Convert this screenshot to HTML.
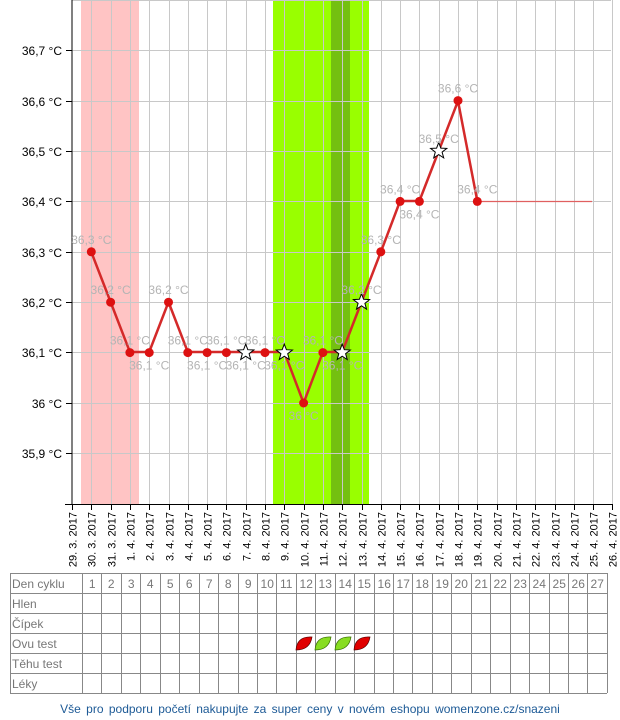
<!DOCTYPE html>
<html><head><meta charset="utf-8"><style>
html,body{margin:0;padding:0;background:#fff;}
svg{display:block;font-family:"Liberation Sans",Arial,sans-serif;}
</style></head><body>
<svg width="620" height="720" viewBox="0 0 620 720" xmlns="http://www.w3.org/2000/svg">
<rect x="81" y="0" width="58" height="504" fill="#ffc4c4"/>
<rect x="273" y="0" width="96" height="504" fill="#99ff00"/>
<rect x="331" y="0" width="19" height="504" fill="#74c010"/>
<g id="grid" stroke="#c8c8c8" stroke-width="1">
<line x1="72" y1="0.5" x2="611" y2="0.5"/>
<line x1="72" y1="50.5" x2="611" y2="50.5"/>
<line x1="72" y1="101.5" x2="611" y2="101.5"/>
<line x1="72" y1="151.5" x2="611" y2="151.5"/>
<line x1="72" y1="201.5" x2="611" y2="201.5"/>
<line x1="72" y1="252.5" x2="611" y2="252.5"/>
<line x1="72" y1="302.5" x2="611" y2="302.5"/>
<line x1="72" y1="352.5" x2="611" y2="352.5"/>
<line x1="72" y1="403.5" x2="611" y2="403.5"/>
<line x1="72" y1="453.5" x2="611" y2="453.5"/>
</g>
<g stroke="#c8c8c8" stroke-width="1" id="vg"></g>
<line x1="72" y1="0" x2="72" y2="504" stroke="#000"/>
<line x1="65" y1="504.5" x2="613" y2="504.5" stroke="#000"/>
<g font-size="12" fill="#000" text-anchor="end">
<text x="62" y="55">36,7 °C</text>
<text x="62" y="106">36,6 °C</text>
<text x="62" y="156">36,5 °C</text>
<text x="62" y="206">36,4 °C</text>
<text x="62" y="257">36,3 °C</text>
<text x="62" y="307">36,2 °C</text>
<text x="62" y="357">36,1 °C</text>
<text x="62" y="408">36 °C</text>
<text x="62" y="458">35,9 °C</text>
</g>
<g stroke="#000">
<line x1="66" y1="50.5" x2="72" y2="50.5"/><line x1="66" y1="101.5" x2="72" y2="101.5"/><line x1="66" y1="151.5" x2="72" y2="151.5"/><line x1="66" y1="201.5" x2="72" y2="201.5"/><line x1="66" y1="252.5" x2="72" y2="252.5"/><line x1="66" y1="302.5" x2="72" y2="302.5"/><line x1="66" y1="352.5" x2="72" y2="352.5"/><line x1="66" y1="403.5" x2="72" y2="403.5"/><line x1="66" y1="453.5" x2="72" y2="453.5"/>
</g>
<g id="xt"></g>
<line x1="477" y1="201.5" x2="592" y2="201.5" stroke="#e06060" stroke-width="1.2"/>
<polyline fill="none" stroke="#d42a2a" stroke-width="2.5" stroke-linejoin="round" points="91.3,252 110.6,302 129.9,352 149.2,352 168.5,302 187.8,352 207.1,352 226.4,352 245.7,352 265,352 284.3,352 303.6,403 322.9,352 342.2,352 361.5,302 380.8,252 400.1,201 419.4,201 438.7,151 458,101 477.3,201"/>
<g id="pts"></g>
<g id="lbl" font-size="12" fill="#b4b4b4" text-anchor="middle"></g>
<g id="tbl" stroke="#888" stroke-width="1" fill="none"></g>
<g id="tt" font-size="12" fill="#777"></g>
<g>
<path d="M296,650 q1,-14 16,-13 q-2,13 -16,13z" fill="#e00000" stroke="#500" stroke-width="0.7"/>
<path d="M315,650 q1,-14 16,-13 q-2,13 -16,13z" fill="#88dd22" stroke="#360" stroke-width="0.7"/>
<path d="M335,650 q1,-14 16,-13 q-2,13 -16,13z" fill="#88dd22" stroke="#360" stroke-width="0.7"/>
<path d="M354,650 q1,-14 16,-13 q-2,13 -16,13z" fill="#e00000" stroke="#500" stroke-width="0.7"/>
</g>
<text x="310" y="713" text-anchor="middle" font-size="12" fill="#1d5a96" word-spacing="2">Vše pro podporu početí nakupujte za super ceny v novém eshopu womenzone.cz/snazeni</text>
<script>
var ns="http://www.w3.org/2000/svg";
function el(p,t,a,txt){var e=document.createElementNS(ns,t);for(var k in a)e.setAttribute(k,a[k]);if(txt!=null)e.textContent=txt;p.appendChild(e);return e;}
var vg=document.getElementById('vg'),xt=document.getElementById('xt');
var dates=["29.3.","30.3.","31.3.","1.4.","2.4.","3.4.","4.4.","5.4.","6.4.","7.4.","8.4.","9.4.","10.4.","11.4.","12.4.","13.4.","14.4.","15.4.","16.4.","17.4.","18.4.","19.4.","20.4.","21.4.","22.4.","23.4.","24.4.","25.4.","26.4."];
for(var i=0;i<=28;i++){var x=Math.round(72+19.3*i)+0.5;
 if(i>0)el(vg,'line',{x1:x,y1:0,x2:x,y2:504});
 el(xt,'line',{x1:x,y1:504,x2:x,y2:510,stroke:'#000'});
 var d=dates[i].split('.');
 el(xt,'text',{x:0,y:0,'font-size':11,'text-anchor':'end',transform:'translate('+(x+4)+',512) rotate(-90)'},d[0]+'. '+d[1]+'. 2017');}
var vals=[null,36.3,36.2,36.1,36.1,36.2,36.1,36.1,36.1,36.1,36.1,36.1,36.0,36.1,36.1,36.2,36.3,36.4,36.4,36.5,36.6,36.4];
var stars={9:1,11:1,14:1,15:1,19:1};
var above={1:1,2:1,3:1,5:1,6:1,8:1,10:1,13:1,15:1,16:1,17:1,19:1,20:1,21:1};
var pts=document.getElementById('pts'),lbl=document.getElementById('lbl');
for(var i=1;i<=21;i++){var x=72+19.3*i,y=403-(vals[i]-36)*504;
 if(stars[i]){var s="";for(var k=0;k<10;k++){var r=k%2?3.6:8.5,a=-Math.PI/2+k*Math.PI/5;s+=(x+r*Math.cos(a)).toFixed(1)+","+(y+r*Math.sin(a)).toFixed(1)+" ";}
  el(pts,'polygon',{points:s,fill:'#fff',stroke:'#000','stroke-width':1});}
 else el(pts,'circle',{cx:x,cy:y,r:4.5,fill:'#dd1111'});
 var t=(vals[i]==36?"36":vals[i].toFixed(1).replace('.',','))+" °C";
 el(lbl,'text',{x:x,y:above[i]?y-8:y+17},t);}
var tb=document.getElementById('tbl'),tt=document.getElementById('tt');
var names=["Den cyklu","Hlen","Čípek","Ovu test","Těhu test","Léky"];
for(var r=0;r<=6;r++)el(tb,'line',{x1:10,y1:573.5+r*20,x2:607,y2:573.5+r*20});
el(tb,'line',{x1:10.5,y1:573,x2:10.5,y2:693});
for(var c=0;c<=27;c++){var x=Math.round(82+19.44*c)+0.5;el(tb,'line',{x1:x,y1:573,x2:x,y2:693});
 if(c<27)el(tt,'text',{x:x+9.7,y:588,'text-anchor':'middle'},String(c+1));}
for(var r=0;r<6;r++)el(tt,'text',{x:12,y:588+r*20},names[r]);
</script>
</svg>
</body></html>
